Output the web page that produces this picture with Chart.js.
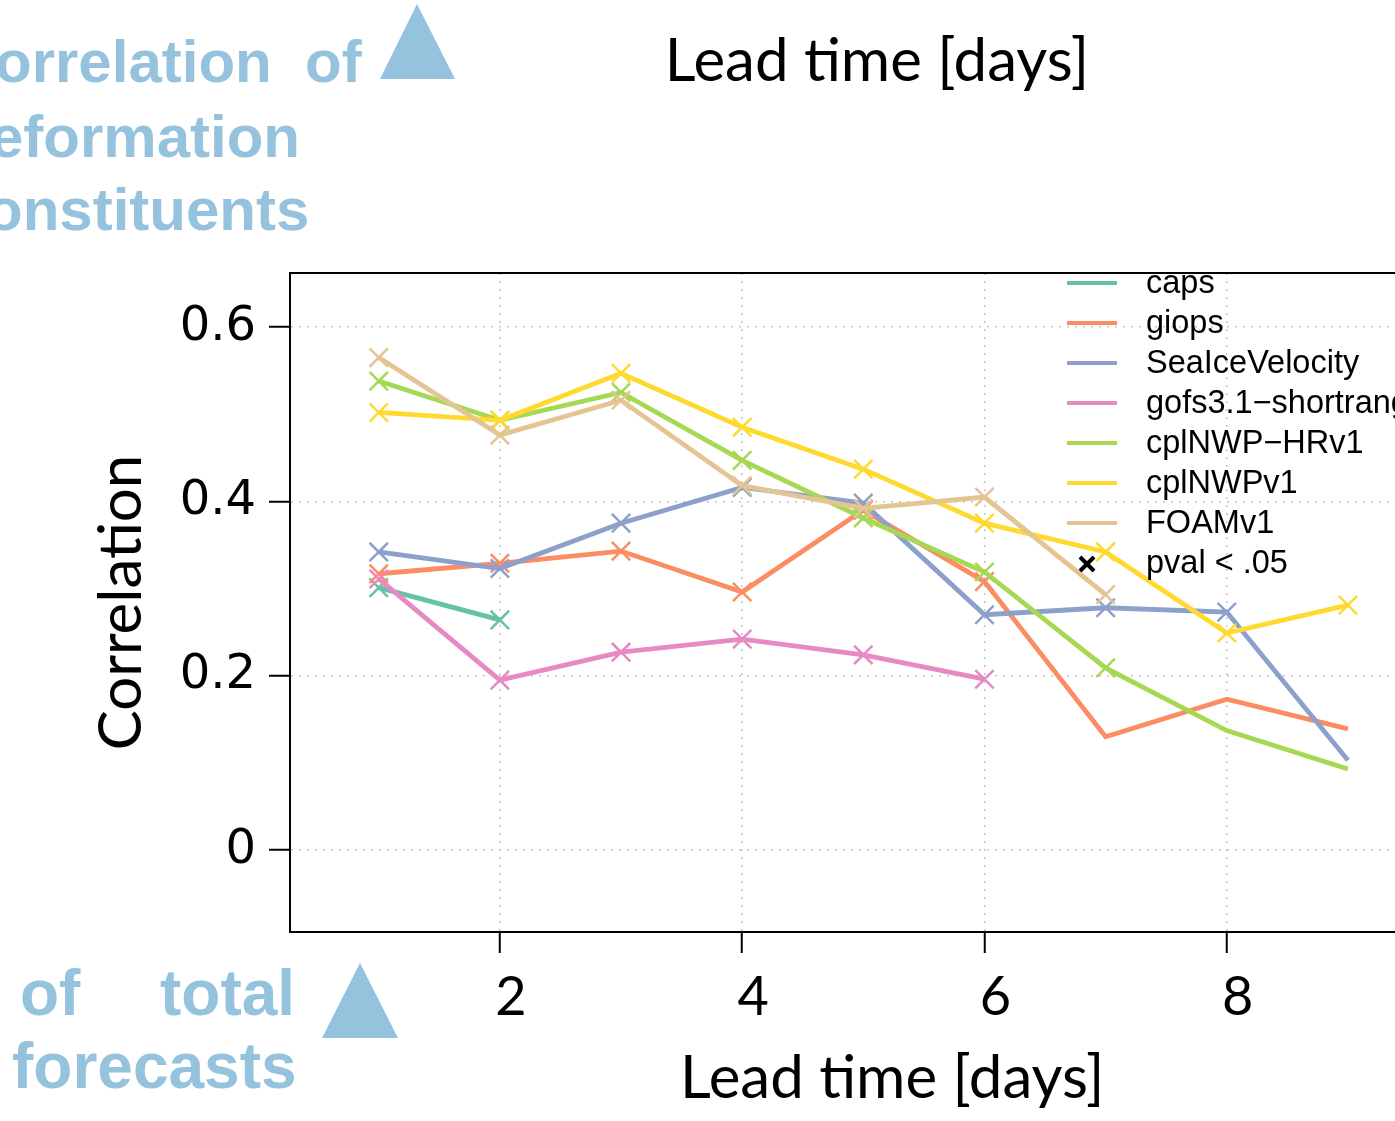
<!DOCTYPE html>
<html>
<head>
<meta charset="utf-8">
<script src="https://cdn.jsdelivr.net/npm/chart.js@4.4.0/dist/chart.umd.min.js"></script>
<style>
  html, body { margin: 0; padding: 0; background: #fff; overflow: hidden; }
  #wrap { position: relative; width: 1510px; height: 1121px; }
</style>
</head>
<body>
<div id="wrap"><canvas id="corrChart"></canvas></div>
<script>
// lead time (days) on x
const leadDays = [1, 2, 3, 4, 5, 6, 7, 8, 9];

const seriesNames = ['caps', 'giops', 'SeaIceVelocity', 'gofs3.1\u2212shortrange',
                     'cplNWP\u2212HRv1', 'cplNWPv1', 'FOAMv1'];
const seriesColors = ['#66c2a5', '#fc8d62', '#8da0cb', '#e78ac3', '#a6d854', '#ffd92f', '#e5c494'];

// correlation per lead day (null = no forecast)
const caps           = [0.301, 0.264, null, null, null, null, null, null, null];
const giops          = [0.317, 0.329, 0.343, 0.296, 0.390, 0.308, 0.130, 0.173, 0.139];
const seaIceVelocity = [0.342, 0.323, 0.375, 0.416, 0.398, 0.270, 0.278, 0.273, 0.103];
const gofsShortrange = [0.311, 0.195, 0.227, 0.242, 0.224, 0.196, null, null, null];
const cplNWPHRv1     = [0.538, 0.493, 0.525, 0.447, 0.381, 0.319, 0.209, 0.137, 0.093];
const cplNWPv1       = [0.502, 0.493, 0.547, 0.485, 0.437, 0.375, 0.342, 0.249, 0.281];
const foamV1         = [0.565, 0.476, 0.516, 0.418, 0.392, 0.405, 0.293, null, null];

// pval < .05 flags (1 = marked with x)
const capsSig  = [1, 1];
const giopsSig = [1, 1, 1, 1, 1, 1, 0, 0, 0];
const seaSig   = [1, 1, 1, 1, 1, 1, 1, 1, 0];
const gofsSig  = [1, 1, 1, 1, 1, 1];
const hrSig    = [1, 1, 1, 1, 1, 1, 1, 0, 0];
const cplSig   = [1, 1, 1, 1, 1, 1, 1, 1, 1];
const foamSig  = [1, 1, 1, 1, 1, 1, 1];

const xTicks = [2, 4, 6, 8];
const yTicks = [0, 0.2, 0.4, 0.6];

const seriesValues = [caps, giops, seaIceVelocity, gofsShortrange, cplNWPHRv1, cplNWPv1, foamV1];
const seriesSig = [capsSig, giopsSig, seaSig, gofsSig, hrSig, cplSig, foamSig];

Chart.defaults.font.family = 'Lato';
Chart.defaults.color = '#000';

const slideBlue = '#95c2dd';

const overlayPlugin = {
  id: 'overlay',
  afterDraw(chart) {
    const ctx = chart.ctx;
    const a = chart.chartArea;
    ctx.save();

    // top edge of the box
    ctx.strokeStyle = '#000';
    ctx.lineWidth = 2;
    ctx.beginPath();
    ctx.moveTo(a.left - 1, a.top);
    ctx.lineTo(a.right, a.top);
    ctx.stroke();

    // legend inside plot
    const lx = 1067, ly = 283, step = 40;
    ctx.font = '32.5px "Liberation Sans"';
    ctx.textBaseline = 'middle';
    ctx.textAlign = 'left';
    seriesNames.forEach((name, i) => {
      const y = ly + i * step;
      ctx.strokeStyle = seriesColors[i];
      ctx.lineWidth = 4;
      ctx.beginPath();
      ctx.moveTo(lx, y);
      ctx.lineTo(lx + 50, y);
      ctx.stroke();
      ctx.fillStyle = '#000';
      ctx.fillText(name, lx + 79, y + 1);
    });
    const py = ly + seriesNames.length * step + 1;
    ctx.strokeStyle = '#000';
    ctx.lineWidth = 4;
    ctx.beginPath();
    ctx.moveTo(lx + 13, py - 7); ctx.lineTo(lx + 27, py + 7);
    ctx.moveTo(lx + 27, py - 7); ctx.lineTo(lx + 13, py + 7);
    ctx.stroke();
    ctx.fillText('pval < .05', lx + 79, py);

    // top title
    ctx.textBaseline = 'alphabetic';
    ctx.textAlign = 'center';
    ctx.font = '60px Lato';
    ctx.fillText('Lead time [days]', 877, 81);

    // slide text around the figure
    ctx.textAlign = 'left';
    ctx.fillStyle = slideBlue;
    ctx.font = 'bold 60px "Liberation Sans"';
    ctx.fillText('Correlation', -ctx.measureText('C').width - 5, 82);
    ctx.fillText('of', 305, 82);
    ctx.fillText('Deformation', -ctx.measureText('D').width - 10, 157);
    ctx.fillText('Constituents', -ctx.measureText('C').width - 14, 230);
    ctx.font = 'bold 64px "Liberation Sans"';
    ctx.fillText('of', 20, 1015);
    ctx.fillText('total', 160, 1015);
    ctx.fillText('forecasts', 12, 1088);

    ctx.beginPath();
    ctx.moveTo(417, 4); ctx.lineTo(455, 79); ctx.lineTo(380, 79); ctx.closePath();
    ctx.moveTo(360, 963); ctx.lineTo(398, 1038); ctx.lineTo(322, 1038); ctx.closePath();
    ctx.fill();

    ctx.restore();
  }
};

const datasets = seriesNames.map((name, i) => ({
  label: name,
  data: leadDays.map((d, j) => ({ x: d, y: seriesValues[i][j] ?? null })),
  borderColor: seriesColors[i],
  backgroundColor: seriesColors[i],
  borderWidth: 4.8,
  pointStyle: 'crossRot',
  pointRadius: c => (seriesSig[i][c.dataIndex] ? 13 : 0),
  pointBorderWidth: 2.5,
  pointBorderColor: seriesColors[i],
  tension: 0,
  spanGaps: false,
  order: seriesNames.length - i
}));

const gridOpts = {
  color: '#c4c4c4',
  lineWidth: 1.5,
  tickColor: '#000',
  tickLength: 21,
  tickWidth: 2,
  tickBorderDash: []
};
const borderOpts = { display: true, color: '#000', width: 2, dash: [2, 6] };

new Chart(document.getElementById('corrChart'), {
  type: 'line',
  data: { datasets },
  options: {
    responsive: true,
    maintainAspectRatio: false,
    animation: false,
    events: [],
    layout: { padding: { top: 273, right: 12, left: 0, bottom: 0 } },
    plugins: { legend: { display: false }, tooltip: { enabled: false } },
    scales: {
      x: {
        type: 'linear',
        min: 0.2675,
        max: 10.21,
        afterBuildTicks: s => { s.ticks = xTicks.map(v => ({ value: v })); },
        afterFit: s => { s.height = 189; },
        ticks: { font: { size: 54 }, color: '#000', padding: 12, labelOffset: 11, maxRotation: 0, autoSkip: false },
        title: { display: true, text: 'Lead time [days]', font: { size: 60 }, color: '#000', padding: { top: 0, bottom: 6 } },
        grid: gridOpts,
        border: borderOpts
      },
      y: {
        min: -0.094,
        max: 0.662,
        afterBuildTicks: s => { s.ticks = yTicks.map(v => ({ value: v })); },
        afterFit: s => { s.width = 290; },
        ticks: {
          font: { family: 'DejaVu Sans', size: 48 },
          color: '#000',
          padding: 13,
          callback: v => (v === 0 ? '0' : v.toFixed(1))
        },
        title: { display: true, text: 'Correlation', font: { size: 60 }, color: '#000', padding: { top: 86, bottom: 0 } },
        grid: gridOpts,
        border: borderOpts
      }
    }
  },
  plugins: [overlayPlugin]
});
</script>
</body>
</html>
